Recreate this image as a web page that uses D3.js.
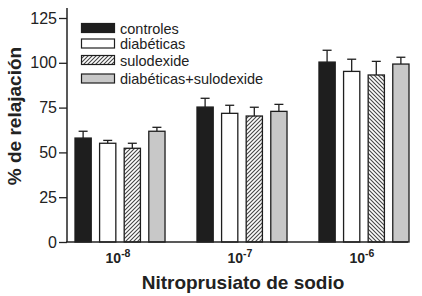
<!DOCTYPE html>
<html><head><meta charset="utf-8">
<script src="https://cdn.jsdelivr.net/npm/d3@7"></script>
<style>body{margin:0;background:#fff}svg{display:block}text{font-family:"Liberation Sans",Arial,sans-serif;fill:#222}</style>
</head><body><svg id="c" width="422" height="296"></svg>
<script>
const groups = ["-8", "-7", "-6"];
const series = ["controles", "diabéticas", "sulodexide", "diabéticas+sulodexide"];
const means = [
  [58.0, 55.1, 52.3, 61.8],
  [75.3, 71.8, 70.3, 72.9],
  [100.4, 95.2, 93.2, 99.3]
];
const errs = [
  [3.8, 1.6, 2.8, 2.2],
  [4.9, 4.5, 4.9, 3.9],
  [6.6, 6.8, 7.6, 3.8]
];
const yTicks = [0, 25, 50, 75, 100, 125];
const yTitle = "% de relajación";
const xTitle = "Nitroprusiato de sodio";

const svg = d3.select("#c");
const defs = svg.append("defs");
function hatch(id, dir) {
  const p = defs.append("pattern").attr("id", id).attr("patternUnits", "userSpaceOnUse")
    .attr("width", 4).attr("height", 4);
  p.append("rect").attr("width", 4).attr("height", 4).attr("fill", "#fff");
  const d = dir > 0 ? "M-1,1 l2,-2 M0,4 l4,-4 M3,5 l2,-2" : "M-1,3 l2,2 M0,0 l4,4 M3,-1 l2,2";
  p.append("path").attr("d", d).attr("stroke", "#444").attr("stroke-width", 1.1);
}
hatch("hf", 1); hatch("hb", -1);

const y = d3.scaleLinear().domain([0, 125]).range([242, 18]);
const x0 = d3.scaleBand().domain(groups).range([75, 409]).paddingInner(0.262).paddingOuter(0);
const x1 = d3.scaleBand().domain(series).range([0, x0.bandwidth()]).paddingInner(0.34).paddingOuter(0);
const fills = ["#1e1e1e", "#ffffff", null, "#c8c8c8"];

// bars
groups.forEach((g, gi) => {
  const gg = svg.append("g").attr("transform", `translate(${x0(g)},0)`);
  series.forEach((s, si) => {
    const m = means[gi][si], e = errs[gi][si];
    const cx = x1(s) + x1.bandwidth() / 2;
    gg.append("line").attr("x1", cx).attr("x2", cx).attr("y1", y(m)).attr("y2", y(m + e))
      .attr("stroke", "#1e1e1e").attr("stroke-width", 1.3);
    gg.append("line").attr("x1", cx - 4.5).attr("x2", cx + 4.5).attr("y1", y(m + e)).attr("y2", y(m + e))
      .attr("stroke", "#1e1e1e").attr("stroke-width", 1.3);
    const f = fills[si] || (gi === 2 ? "url(#hb)" : "url(#hf)");
    gg.append("rect").attr("x", x1(s)).attr("y", y(m)).attr("width", x1.bandwidth())
      .attr("height", y(0) - y(m)).attr("fill", f).attr("stroke", "#1e1e1e").attr("stroke-width", 1.3);
  });
});

// y axis
const ya = svg.append("g").attr("transform", "translate(67,0)")
  .call(d3.axisLeft(y).tickValues(yTicks).tickSize(8).tickPadding(2).tickSizeOuter(0));
ya.select(".domain").remove();
ya.append("line").attr("x1", 0).attr("x2", 0).attr("y1", 8).attr("y2", 242).attr("stroke", "#222").attr("stroke-width", 1.5);
ya.selectAll(".tick line").attr("stroke", "#222").attr("stroke-width", 1.3);
ya.selectAll(".tick text").style("font-size", "16px").attr("fill", "#222").style("font-family", '"Liberation Sans",Arial,sans-serif');

// x axis line
svg.append("line").attr("x1", 66).attr("x2", 408).attr("y1", 242).attr("y2", 242).attr("stroke", "#222").attr("stroke-width", 1.5);

// x tick labels
groups.forEach(g => {
  const t = svg.append("text").attr("x", x0(g) + x0.bandwidth() / 2 - 2).attr("y", 263)
    .attr("text-anchor", "middle").style("font-size", "14px").style("font-weight", "bold");
  t.append("tspan").text("10");
  t.append("tspan").attr("dy", -6).style("font-size", "10.5px").text(g);
});

// titles
svg.append("text").attr("x", 243).attr("y", 289).attr("text-anchor", "middle")
  .style("font-size", "19px").style("font-weight", "bold").text(xTitle);
svg.append("text").attr("transform", "translate(21,116) rotate(-90)").attr("text-anchor", "middle")
  .style("font-size", "19px").style("font-weight", "bold").text(yTitle);

// legend
const lg = svg.append("g");
const ly = [23.5, 39, 55.5, 74];
series.forEach((s, si) => {
  const f = fills[si] || "url(#hf)";
  lg.append("rect").attr("x", 81.5).attr("y", ly[si]).attr("width", 33).attr("height", 9)
    .attr("fill", f).attr("stroke", "#1e1e1e").attr("stroke-width", 1.2);
  lg.append("text").attr("x", 120).attr("y", ly[si] + 10).style("font-size", "14.5px").text(s);
});
</script></body></html>
